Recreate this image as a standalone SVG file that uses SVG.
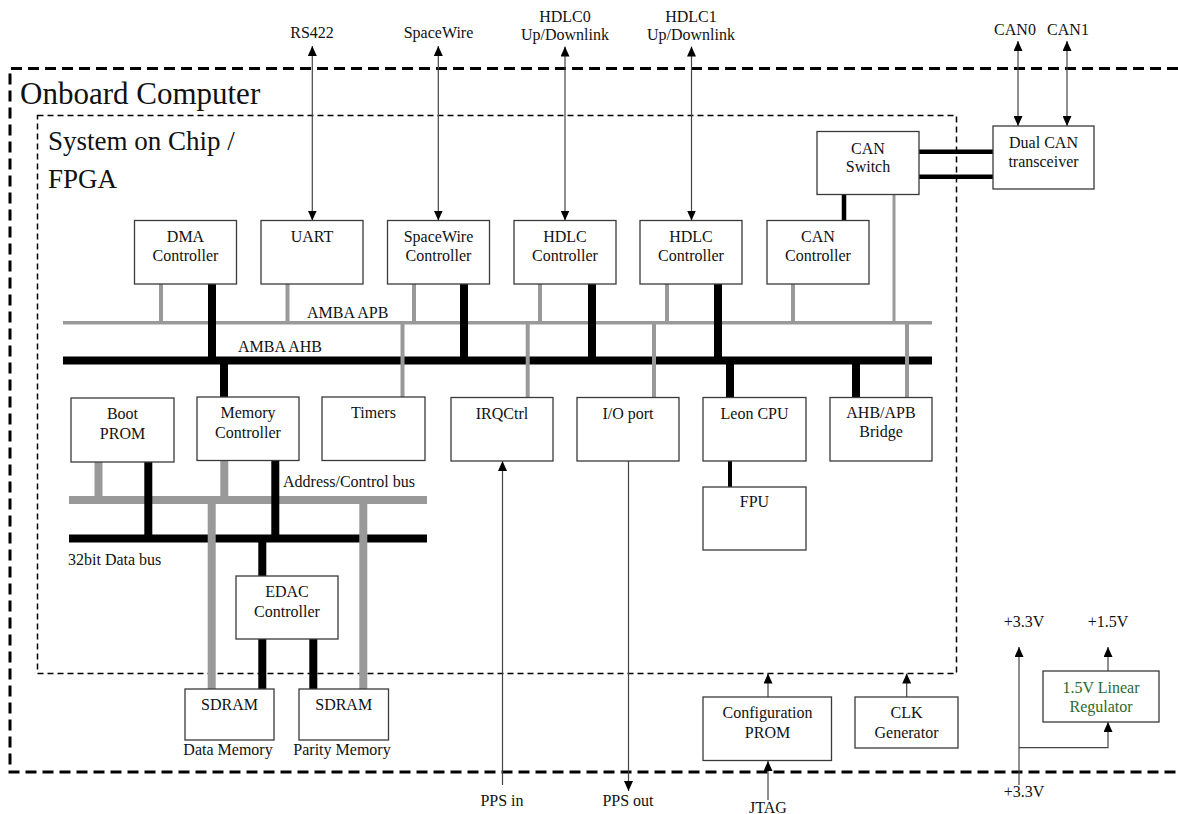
<svg xmlns="http://www.w3.org/2000/svg" width="1178" height="814" viewBox="0 0 1178 814">
<defs>
<marker id="ah" viewBox="0 0 10 9" refX="10" refY="4.5" markerWidth="10" markerHeight="9" markerUnits="userSpaceOnUse" orient="auto-start-reverse"><path d="M0,0 L10,4.5 L0,9 z" fill="#000"/></marker>
</defs>
<style>
.box{fill:#fff;stroke:#3a3a3a;stroke-width:1.3}
text{font-family:"Liberation Serif","Times New Roman",serif;font-size:16px;fill:#111}
.c{text-anchor:middle}
.big{font-size:31px}
.mid{font-size:27px}
.gw{stroke:#999;stroke-width:4;fill:none}
.gt{stroke:#999;stroke-width:8;fill:none}
.bk{stroke:#000;stroke-width:8;fill:none}
.bn{stroke:#000;stroke-width:4.5;fill:none}
.ar{stroke:#444;stroke-width:1.2;fill:none;marker-end:url(#ah)}
.bi{marker-start:url(#ah)}
.green{fill:#2d6a2d}
</style>
<rect width="1178" height="814" fill="#fff"/>

<g id="containers">
<path d="M1178,68.5 H10 V772 H1178" fill="none" stroke="#000" stroke-width="3" stroke-dasharray="11 6"/>
<rect x="37.5" y="115.5" width="919" height="558" fill="none" stroke="#000" stroke-width="1.5" stroke-dasharray="6 4"/>
<text class="big" x="20" y="104">Onboard Computer</text>
<text class="mid" x="48" y="150">System on Chip /</text>
<text class="mid" x="48" y="188">FPGA</text>
</g>

<g id="connectors">
<!-- buses -->
<path d="M63,322.7 H932" stroke="#999" stroke-width="3.5"/>
<path d="M63,360.5 H932" class="bk"/>
<path d="M69,500 H427" class="gt"/>
<path d="M69,538.5 H427" class="bk"/>
<!-- upper APB connectors -->
<path d="M161,284 V322.7 M287.5,284 V322.7 M414,284 V322.7 M540,284 V322.7 M667,284 V322.7 M793,284 V322.7" class="gw"/>
<path d="M894,194 V322.7" stroke="#999" stroke-width="3" fill="none"/>
<!-- upper AHB connectors -->
<path d="M212,284 V360.5 M464,284 V360.5 M592,284 V360.5 M718,284 V360.5" class="bk"/>
<!-- CAN switch -->
<path d="M844,194 V220.5 M919,151.7 H993 M919,176.7 H993" class="bn"/>
<!-- lower AHB/APB connectors -->
<path d="M224,360.5 V397 M730,360.5 V397.5 M856,360.5 V397.5" class="bk"/>
<path d="M402.5,322.7 V397 M527.7,322.7 V397.5 M654,322.7 V397.5 M907,322.7 V397.5" class="gw"/>
<path d="M730,461 V487" stroke="#000" stroke-width="4" fill="none"/>
<!-- memory buses -->
<path d="M98.5,462 V500 M224.3,460.5 V500 M211.7,500 V689 M363.3,500 V689" class="gt"/>
<path d="M148.3,462 V538.5 M275.3,460.5 V538.5 M262.3,538.5 V576 M262.3,639 V689 M313.3,639 V689" class="bk"/>
<!-- external arrows -->
<path d="M312.3,46 V220.5" class="ar bi"/>
<path d="M438.3,46 V220.5" class="ar bi"/>
<path d="M565,46.5 V220.5" class="ar bi"/>
<path d="M691.5,46.5 V220.5" class="ar bi"/>
<path d="M1018,41 V126" class="ar bi"/>
<path d="M1067,41 V126" class="ar bi"/>
<path d="M502.5,785 V461" class="ar"/>
<path d="M628.5,461 V791" class="ar"/>
<path d="M768,800 V761" class="ar"/>
<path d="M768,697 V673.5" class="ar"/>
<path d="M906.7,697 V673.5" class="ar"/>
<path d="M1019,785 V647" class="ar"/>
<path d="M1019,747.7 H1108 V722" class="ar"/>
<path d="M1108,671 V647" class="ar"/>
<!-- labels -->
<text x="307" y="318">AMBA APB</text>
<text x="238" y="352">AMBA AHB</text>
<text x="283" y="487">Address/Control bus</text>
<text x="68" y="565">32bit Data bus</text>
<text class="c" x="312" y="38">RS422</text>
<text class="c" x="438.5" y="38">SpaceWire</text>
<text class="c" x="565" y="22">HDLC0</text>
<text class="c" x="565" y="39.5">Up/Downlink</text>
<text class="c" x="691" y="22">HDLC1</text>
<text class="c" x="691" y="39.5">Up/Downlink</text>
<text class="c" x="1015" y="35">CAN0</text>
<text class="c" x="1068" y="35">CAN1</text>
<text class="c" x="502" y="806">PPS in</text>
<text class="c" x="628" y="806">PPS out</text>
<text class="c" x="768" y="813">JTAG</text>
<text class="c" x="1024" y="627">+3.3V</text>
<text class="c" x="1108" y="627">+1.5V</text>
<text class="c" x="1024" y="797">+3.3V</text>
<text class="c" x="228" y="755">Data Memory</text>
<text class="c" x="342" y="755">Parity Memory</text>
</g>

<g id="dma"><rect class="box" x="134.5" y="220.5" width="102" height="63.5"/><text class="c" x="185.5" y="242">DMA</text><text class="c" x="185.5" y="261">Controller</text></g>
<g id="uart"><rect class="box" x="261" y="220.5" width="102" height="63.5"/><text class="c" x="312" y="242">UART</text></g>
<g id="spacewire"><rect class="box" x="387.5" y="220.5" width="102" height="63.5"/><text class="c" x="438.5" y="242">SpaceWire</text><text class="c" x="438.5" y="261">Controller</text></g>
<g id="hdlc0"><rect class="box" x="514" y="220.5" width="102" height="63.5"/><text class="c" x="565" y="242">HDLC</text><text class="c" x="565" y="261">Controller</text></g>
<g id="hdlc1"><rect class="box" x="640" y="220.5" width="102" height="63.5"/><text class="c" x="691" y="242">HDLC</text><text class="c" x="691" y="261">Controller</text></g>
<g id="can-controller"><rect class="box" x="767" y="220.5" width="102" height="63.5"/><text class="c" x="818" y="242">CAN</text><text class="c" x="818" y="261">Controller</text></g>
<g id="can-switch"><rect class="box" x="817" y="131.5" width="102" height="63"/><text class="c" x="868" y="154">CAN</text><text class="c" x="868" y="172">Switch</text></g>
<g id="can-transceiver"><rect class="box" x="993" y="126" width="101" height="63"/><text class="c" x="1043.5" y="148">Dual CAN</text><text class="c" x="1043.5" y="167">transceiver</text></g>
<g id="boot-prom"><rect class="box" x="71" y="398" width="103" height="64"/><text class="c" x="122.5" y="419">Boot</text><text class="c" x="122.5" y="439">PROM</text></g>
<g id="memory-controller"><rect class="box" x="197" y="397" width="102" height="63.5"/><text class="c" x="248" y="418">Memory</text><text class="c" x="248" y="437.5">Controller</text></g>
<g id="timers"><rect class="box" x="322" y="397" width="103" height="63.5"/><text class="c" x="373.5" y="418">Timers</text></g>
<g id="irqctrl"><rect class="box" x="451" y="397.5" width="102" height="63.5"/><text class="c" x="502" y="419">IRQCtrl</text></g>
<g id="io-port"><rect class="box" x="577" y="397.5" width="102" height="63.5"/><text class="c" x="628" y="419">I/O port</text></g>
<g id="leon-cpu"><rect class="box" x="703" y="397.5" width="103" height="63.5"/><text class="c" x="754.5" y="419">Leon CPU</text></g>
<g id="ahb-apb-bridge"><rect class="box" x="830" y="397.5" width="102" height="63.5"/><text class="c" x="881" y="418">AHB/APB</text><text class="c" x="881" y="437">Bridge</text></g>
<g id="fpu"><rect class="box" x="703" y="487" width="103" height="63"/><text class="c" x="754.5" y="507">FPU</text></g>
<g id="edac"><rect class="box" x="236" y="576" width="102" height="63"/><text class="c" x="287" y="597">EDAC</text><text class="c" x="287" y="616.5">Controller</text></g>
<g id="sdram-data"><rect class="box" x="185" y="689" width="89" height="51"/><text class="c" x="229.5" y="710">SDRAM</text></g>
<g id="sdram-parity"><rect class="box" x="299" y="689" width="89.5" height="51"/><text class="c" x="343.7" y="710">SDRAM</text></g>
<g id="config-prom"><rect class="box" x="703" y="697" width="128.5" height="63.5"/><text class="c" x="767.5" y="718">Configuration</text><text class="c" x="767.5" y="737.5">PROM</text></g>
<g id="clk-generator"><rect class="box" x="855" y="697" width="103" height="51"/><text class="c" x="906.5" y="718">CLK</text><text class="c" x="906.5" y="737.5">Generator</text></g>
<g id="regulator"><rect class="box" x="1043" y="671" width="116" height="51"/><text class="c green" x="1101" y="693">1.5V Linear</text><text class="c green" x="1101" y="712">Regulator</text></g>
</svg>
